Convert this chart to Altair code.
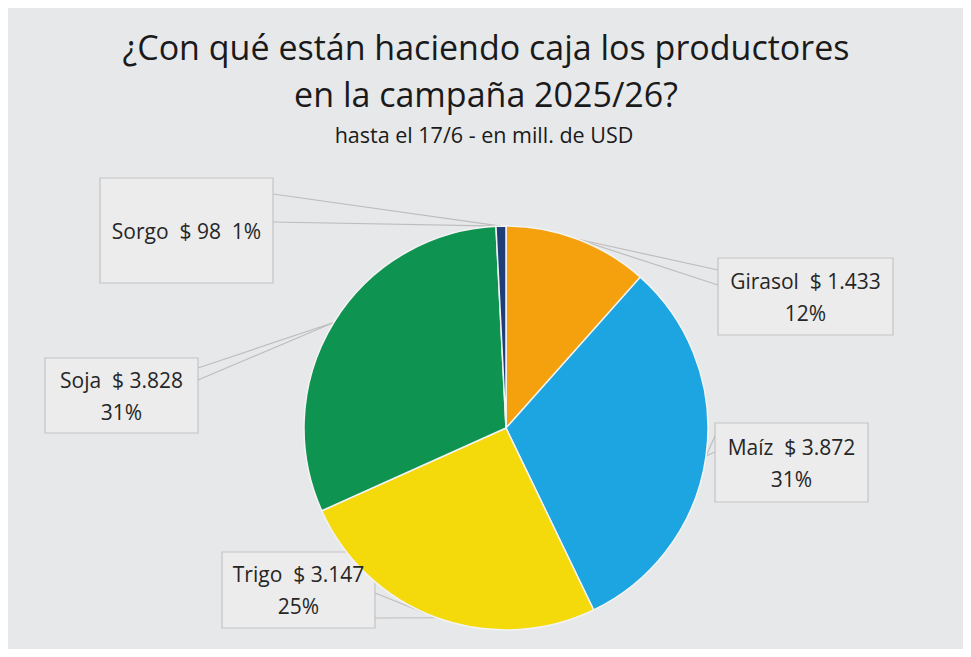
import math
import altair as alt
import pandas as pd

# ---- data ----
cultivos = ["Girasol", "Maíz", "Trigo", "Soja", "Sorgo"]
valores = [1433, 3872, 3147, 3828, 98]
colores = ["#F5A10E", "#1CA5E0", "#F4D90B", "#0E9350", "#1F3E78"]

titulo = ["¿Con qué están haciendo caja los productores", "en la campaña 2025/26?"]
subtitulo = "hasta el 17/6 - en mill. de USD"

# ---- layout (image pixel coordinates) ----
CX, CY, R = 506, 428, 202
LH = 32
# label boxes: x0, y0, x1, y1 and the two y's where the callout pointer leaves the box
cajas = {
    "Girasol": (718, 258, 893, 335, 270, 285),
    "Maíz": (715, 423, 868, 502, 436, 452),
    "Trigo": (222, 552, 375, 628, 593, 618),
    "Soja": (45, 358, 198, 433, 368, 380),
    "Sorgo": (100, 178, 273, 283, 194, 222),
}

total = sum(valores)
df = pd.DataFrame({"cultivo": cultivos, "valor": valores, "orden": range(len(cultivos))})
df["pct"] = (df["valor"] / total * 100).round().astype(int)
NB = "\u00a0"
df["monto"] = df["valor"].map(lambda v: "$" + NB + f"{v:,}".replace(",", "."))
cum = df["valor"].cumsum()
mid = (cum - df["valor"] / 2) / total * 2 * math.pi
df["tipx"] = CX + R * mid.map(math.sin)
df["tipy"] = CY - R * mid.map(math.cos)


def etiqueta(row):
    if row["cultivo"] == "Sorgo":
        return f"{row['cultivo']}{NB}{NB}{row['monto']}{NB}{NB}{row['pct']}%"
    return f"{row['cultivo']}{NB}{NB}{row['monto']}\n{row['pct']}%"


df["texto"] = df.apply(etiqueta, axis=1)
df["nlin"] = df["texto"].str.count("\n") + 1
df["x0"] = df["cultivo"].map(lambda c: cajas[c][0])
df["y0"] = df["cultivo"].map(lambda c: cajas[c][1])
df["x1"] = df["cultivo"].map(lambda c: cajas[c][2])
df["y1"] = df["cultivo"].map(lambda c: cajas[c][3])
df["xc"] = (df["x0"] + df["x1"]) / 2
df["yc"] = (df["y0"] + df["y1"]) / 2 - (df["nlin"] - 1) * LH / 2 + 2

lineas = []
for _, r in df.iterrows():
    x0, y0, x1, y1, b1, b2 = cajas[r["cultivo"]]
    bx = x0 if x0 > CX else x1
    for b in (b1, b2):
        lineas.append({"bx": bx, "by": b, "tx": r["tipx"], "ty": r["tipy"]})
lineas = pd.DataFrame(lineas)

W, H = 955, 641
xs = alt.Scale(domain=[8, 8 + W], nice=False, zero=False)
ys = alt.Scale(domain=[8 + H, 8], nice=False, zero=False)
FONT = "Open Sans"
TXT = "#262626"

cajas_l = alt.Chart(df).mark_rect(fill="#ECECEC", stroke="#C4C4C4", strokeWidth=1.2).encode(
    x=alt.X("x0:Q", scale=xs, axis=None),
    x2="x1:Q",
    y=alt.Y("y0:Q", scale=ys, axis=None),
    y2="y1:Q",
)

lineas_l = alt.Chart(lineas).mark_rule(color="#BDBDBD", strokeWidth=1.2).encode(
    x=alt.X("bx:Q", scale=xs, axis=None),
    y=alt.Y("by:Q", scale=ys, axis=None),
    x2="tx:Q",
    y2="ty:Q",
)

pie = alt.Chart(df).mark_arc(outerRadius=R, stroke="#F3F3F3", strokeWidth=1.5).encode(
    theta=alt.Theta("valor:Q", stack=True),
    color=alt.Color("cultivo:N", scale=alt.Scale(domain=cultivos, range=colores), legend=None),
    order=alt.Order("orden:Q"),
    x=alt.value(CX - 8),
    y=alt.value(CY - 8),
)

textos = alt.Chart(df).mark_text(
    font=FONT, fontSize=21, fontWeight=500, color=TXT, lineBreak="\n", lineHeight=LH,
    align="center", baseline="middle"
).encode(
    x=alt.X("xc:Q", scale=xs, axis=None),
    y=alt.Y("yc:Q", scale=ys, axis=None),
    text="texto:N",
)

tit_df = pd.DataFrame({
    "t": titulo + [subtitulo],
    "x": [486, 486, 484],
    "y": [50, 97, 137],
    "s": [34, 34, 21.5],
})
titulos = alt.Chart(tit_df).mark_text(
    font=FONT, fontWeight=500, color="#1A1A1A", align="center", baseline="middle"
).encode(
    x=alt.X("x:Q", scale=xs, axis=None),
    y=alt.Y("y:Q", scale=ys, axis=None),
    text="t:N",
    size=alt.Size("s:Q", scale=None, legend=None),
)

chart = alt.layer(cajas_l, lineas_l, pie, textos, titulos).properties(
    width=W, height=H, padding=0, autosize=alt.AutoSizeParams(type="none"),
    background="#E7E8EA",
).configure_view(stroke=None)

chart.save("out.html", embed_options={"renderer": "svg", "actions": False})
